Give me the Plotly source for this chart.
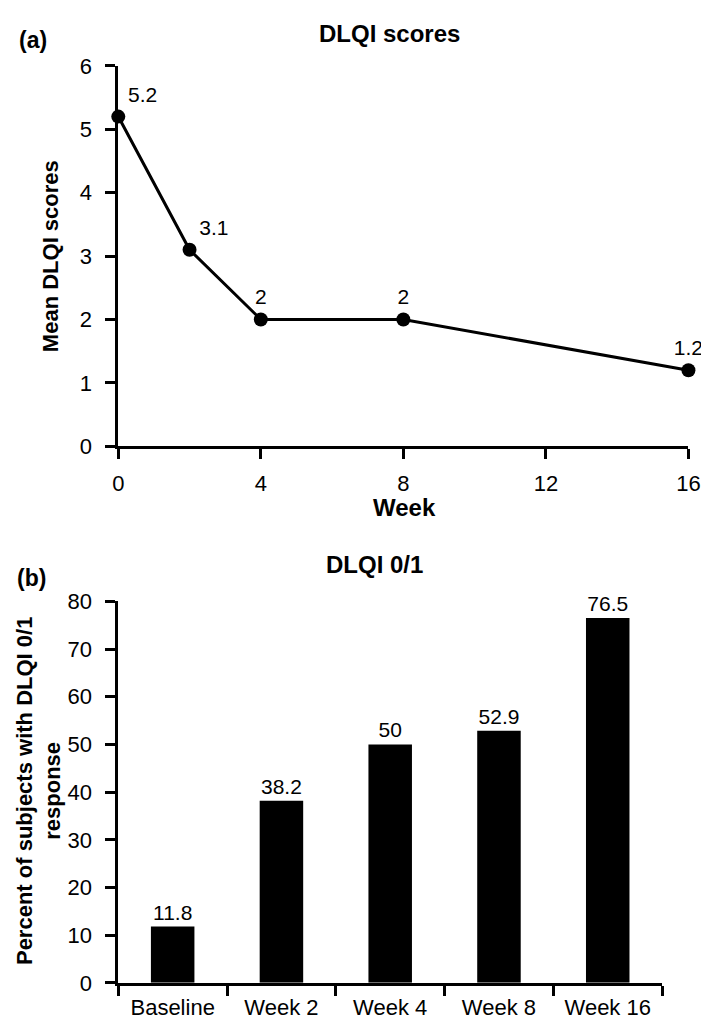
import plotly.graph_objects as go

# panel (a): mean DLQI by week
weeks = [0, 2, 4, 8, 16]
mean_dlqi = [5.2, 3.1, 2, 2, 1.2]
dlqi_text = ['5.2', '3.1', '2', '2', '1.2']
text_pos = ['top right', 'top right', 'top center', 'top center', 'top center']

# panel (b): percent with DLQI 0/1
visits = ['Baseline', 'Week 2', 'Week 4', 'Week 8', 'Week 16']
pct_dlqi01 = [11.8, 38.2, 50, 52.9, 76.5]

W, H = 709, 1022
FONT = 'Liberation Sans, Arial, sans-serif'


def px(x):
    return x / W


def py(y):
    return 1 - y / H


fig = go.Figure()

fig.add_trace(go.Scatter(
    x=weeks, y=mean_dlqi, mode='lines+markers+text',
    text=dlqi_text, textposition=text_pos,
    textfont=dict(size=21, color='black'),
    marker=dict(size=14, color='black'),
    line=dict(color='black', width=3),
    cliponaxis=False, xaxis='x', yaxis='y', showlegend=False,
))

fig.add_trace(go.Bar(
    x=visits, y=pct_dlqi01, texttemplate='%{y}', textposition='outside',
    textfont=dict(size=21, color='black'),
    marker=dict(color='black', line=dict(width=0)),
    width=0.4, cliponaxis=False, xaxis='x2', yaxis='y2', showlegend=False,
))

ax = dict(showline=True, linecolor='black', linewidth=3, ticks='outside',
          ticklen=10, tickwidth=3, tickcolor='black', showgrid=False,
          zeroline=False, tickfont=dict(size=22, color='black'))

fig.update_layout(
    width=W, height=H,
    margin=dict(l=0, r=0, t=0, b=0),
    paper_bgcolor='white', plot_bgcolor='white',
    font=dict(family=FONT, color='black'),
    xaxis=dict(ax, domain=[px(107), px(692)], anchor='y', range=[0, 16],
               tickvals=[0, 4, 8, 12, 16], ticklabelstandoff=5),
    yaxis=dict(ax, domain=[py(437), py(47)], anchor='x', range=[0, 6],
               dtick=1, ticklabelstandoff=9),
    xaxis2=dict(ax, domain=[px(107), px(665)], anchor='y2', type='category',
                tickson='boundaries', range=[-0.5, 4.5], ticklabelstandoff=3),
    yaxis2=dict(ax, domain=[py(987), py(596)], anchor='x2', range=[0, 80],
                dtick=10, ticklabelstandoff=9),
)

notes = [
    ('<b>(a)</b>', 3, 20, 'left', 0, 23),
    ('<b>DLQI scores</b>', 385, 14, 'center', 0, 24),
    ('<b>Week</b>', 401, 500, 'center', 0, 24),
    ('<b>Mean DLQI scores</b>', 37, 242, 'center', -90, 22),
    ('<b>(b)</b>', 1, 572, 'left', 0, 23),
    ('<b>DLQI 0/1</b>', 370, 558, 'center', 0, 24),
    ('<b>Percent of subjects with DLQI 0/1</b><br><b>response</b>', 25, 790, 'center', -90, 22),
]
for txt, x, y, xa, ang, sz in notes:
    fig.add_annotation(text=txt, x=px(x), y=py(y), xref='paper', yref='paper',
                       xanchor=xa, yanchor='middle', textangle=ang,
                       showarrow=False, font=dict(size=sz, color='black'))

fig.write_html('out.html')
